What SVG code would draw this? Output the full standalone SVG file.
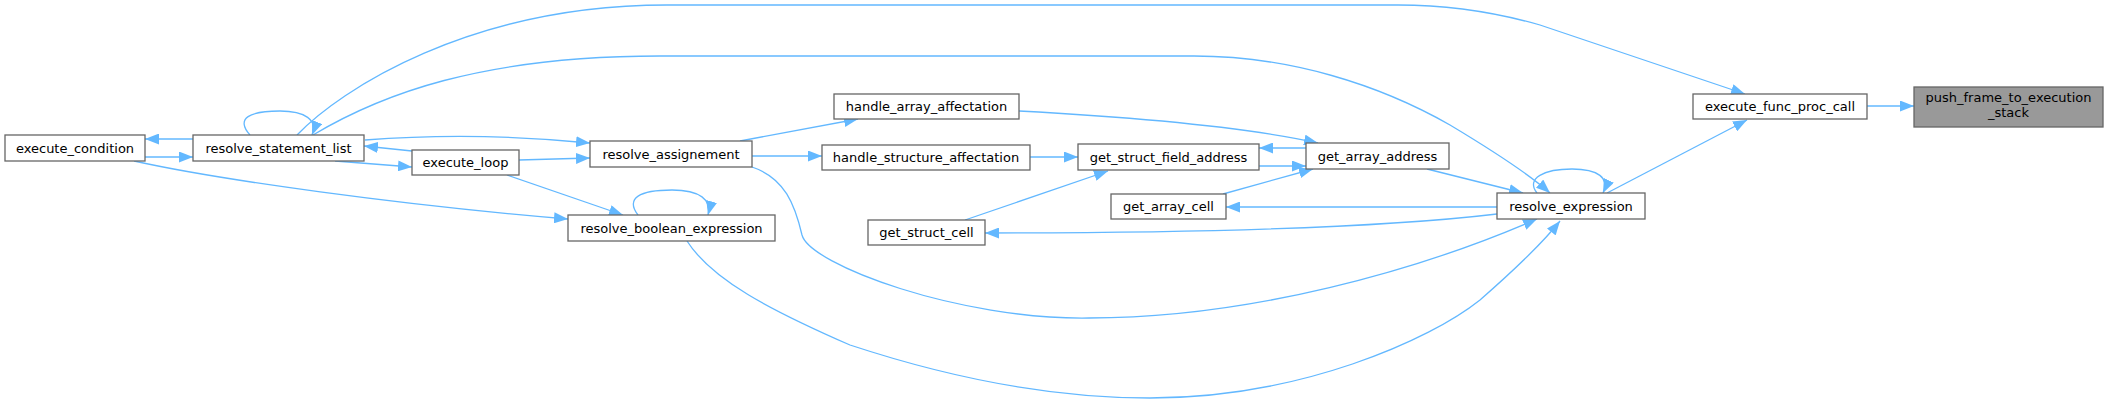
<svg xmlns="http://www.w3.org/2000/svg" width="2109" height="403" viewBox="0 0 2109 403">
<defs>
<marker id="ah" markerUnits="userSpaceOnUse" markerWidth="15" markerHeight="11" refX="14" refY="5.5" orient="auto">
<path d="M0,0 L14,5.5 L0,11 z" fill="#63b8ff"/>
</marker>
<style>
.n rect{fill:#fff;stroke:#666;stroke-width:1.3}
.n.f rect{fill:#999}
.n text{font-family:"DejaVu Sans","Liberation Sans",sans-serif;font-size:13px;fill:#000;text-anchor:middle}
#edges path{fill:none;stroke:#63b8ff;stroke-width:1.3;marker-end:url(#ah)}
</style>
</defs>
<rect width="2109" height="403" fill="#fff"/>
<g id="edges">
<path d="M1867,106 L1914,106"/>
<path d="M297,135 C340,90 470,5 667,5 L1398,5 Q1470,5 1540,25 L1745,94"/>
<path d="M1607,193 L1747,120"/>
<path d="M313,135 C380,95 480,56 660,56 L1194,56 C1290,56 1380,85 1450,125 C1500,155 1530,175 1550,193"/>
<path d="M250,135 C235,118 250,111 280,111 C305,111 318,120 312,135"/>
<path d="M193,139 L145,139"/>
<path d="M145,157 L193,157"/>
<path d="M412,151 L364,146"/>
<path d="M335,161 L412,167"/>
<path d="M365,140 C430,135 500,134 590,143"/>
<path d="M519,160 L590,158"/>
<path d="M134,161 C220,180 400,205 568,219"/>
<path d="M507,175 L623,215"/>
<path d="M638,215 C625,198 640,190 672,190 C700,190 712,200 708,215"/>
<path d="M740,141 L858,119"/>
<path d="M752,156 L822,156"/>
<path d="M752,167 C785,178 795,205 802,235 C810,265 960,320 1089,318 C1250,318 1420,270 1537,219"/>
<path d="M687,241 C712,280 770,310 850,345 C950,378 1050,398 1150,398 C1300,398 1430,340 1480,300 C1520,265 1545,240 1560,221"/>
<path d="M1019,111 C1150,118 1250,128 1318,143"/>
<path d="M1030,157 L1078,157"/>
<path d="M1306,148 L1259,148"/>
<path d="M1259,166 L1306,166"/>
<path d="M965,220 L1108,171"/>
<path d="M1223,194 L1313,169"/>
<path d="M1427,169 L1523,193"/>
<path d="M1497,207 L1226,207"/>
<path d="M1497,214 C1380,228 1200,233 985,233"/>
<path d="M1537,193 C1525,178 1545,169 1572,169 C1598,169 1610,178 1603,193"/>
</g>
<g id="execute_condition" class="n"><rect x="5" y="135" width="140" height="26"/><text x="75" y="152.5">execute_condition</text></g>
<g id="resolve_statement_list" class="n"><rect x="193" y="135" width="171" height="26"/><text x="278.5" y="152.5">resolve_statement_list</text></g>
<g id="execute_loop" class="n"><rect x="412" y="150" width="107" height="25"/><text x="465.5" y="167">execute_loop</text></g>
<g id="resolve_assignement" class="n"><rect x="590" y="141" width="162" height="26"/><text x="671" y="158.5">resolve_assignement</text></g>
<g id="resolve_boolean_expression" class="n"><rect x="568" y="215" width="207" height="26"/><text x="671.5" y="232.5">resolve_boolean_expression</text></g>
<g id="handle_array_affectation" class="n"><rect x="834" y="94" width="185" height="25"/><text x="926.5" y="111">handle_array_affectation</text></g>
<g id="handle_structure_affectation" class="n"><rect x="822" y="145" width="208" height="25"/><text x="926" y="162">handle_structure_affectation</text></g>
<g id="get_struct_cell" class="n"><rect x="868" y="220" width="117" height="25"/><text x="926.5" y="237">get_struct_cell</text></g>
<g id="get_struct_field_address" class="n"><rect x="1078" y="144" width="181" height="26"/><text x="1168.5" y="161.5">get_struct_field_address</text></g>
<g id="get_array_address" class="n"><rect x="1306" y="143" width="143" height="26"/><text x="1377.5" y="160.5">get_array_address</text></g>
<g id="get_array_cell" class="n"><rect x="1111" y="194" width="115" height="25"/><text x="1168.5" y="211">get_array_cell</text></g>
<g id="resolve_expression" class="n"><rect x="1497" y="193" width="148" height="26"/><text x="1571" y="210.5">resolve_expression</text></g>
<g id="execute_func_proc_call" class="n"><rect x="1693" y="94" width="174" height="25"/><text x="1780" y="111">execute_func_proc_call</text></g>
<g id="push_frame_to_execution_stack" class="n f"><rect x="1914" y="87" width="189" height="40"/><text x="2008.5" y="102">push_frame_to_execution</text><text x="2008.5" y="117">_stack</text></g>
</svg>
